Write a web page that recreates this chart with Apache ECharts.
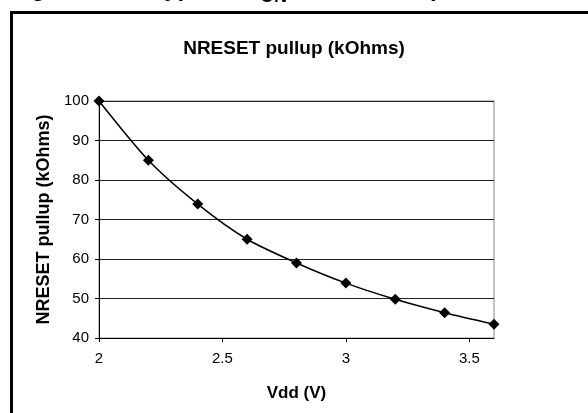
<!DOCTYPE html>
<html>
<head>
<meta charset="utf-8">
<script src="https://cdn.jsdelivr.net/npm/echarts@6/dist/echarts.min.js"></script>
<style>
html,body{margin:0;padding:0;background:#fff;}
#chart{width:588px;height:413px;}
</style>
</head>
<body>
<div id="chart"></div>
<script>
// Data
var vdd = [2.0, 2.2, 2.4, 2.6, 2.8, 3.0, 3.2, 3.4, 3.6];
var pullup = [100, 85.0, 73.9, 65.0, 59.0, 53.9, 49.8, 46.4, 43.5];
var xTicks = [2, 2.5, 3, 3.5];
var yTicks = [40, 50, 60, 70, 80, 90, 100];
var chartTitle = 'NRESET pullup (kOhms)';
var xName = 'Vdd (V)';
var yName = 'NRESET pullup (kOhms)';
var captionMain = 'Figure 10-5. Typical R';
var captionSub = 'ON';
var captionRest = ' of NRESET pin';

var points = vdd.map(function (v, i) { return [v, pullup[i]]; });

var chart = echarts.init(document.getElementById('chart'), null, {renderer: 'canvas'});
var font = 'Arial, "Liberation Sans", sans-serif';
chart.setOption({
  animation: false,
  backgroundColor: '#fff',
  title: {
    text: chartTitle,
    left: 'center',
    top: 34,
    textStyle: {fontFamily: font, fontWeight: 'bold', fontSize: 19, color: '#000'}
  },
  graphic: [
    {type: 'rect', left: 9, top: 10, shape: {x: 0, y: 0, width: 620, height: 440},
     style: {fill: null, stroke: '#000', lineWidth: 3}, silent: true},
    {type: 'text', x: 10, y: -11, style: {text: captionMain, fontFamily: font, fontWeight: 'bold', fontSize: 24, fill: '#000', verticalAlign: 'middle'}},
    {type: 'text', x: 260, y: -3, style: {text: captionSub, fontFamily: font, fontWeight: 'bold', fontSize: 18, fill: '#000', verticalAlign: 'middle'}},
    {type: 'text', x: 290, y: -11, style: {text: captionRest, fontFamily: font, fontWeight: 'bold', fontSize: 24, fill: '#000', verticalAlign: 'middle'}}
  ],
  grid: {
    left: 99, top: 101, width: 395, height: 237,
    show: true, borderColor: '#888', borderWidth: 1, backgroundColor: '#fff'
  },
  xAxis: {
    type: 'value', min: 2, max: 3.6, interval: 0.5,
    name: xName, nameLocation: 'middle', nameGap: 47,
    nameTextStyle: {fontFamily: font, fontWeight: 'bold', fontSize: 17, color: '#000'},
    axisLine: {show: true, lineStyle: {color: '#000', width: 1}},
    axisTick: {show: true, inside: false, length: 4, lineStyle: {color: '#000'}},
    axisLabel: {
      margin: 13, fontFamily: font, fontSize: 15, color: '#000', showMaxLabel: false,
      formatter: function (v) { return xTicks.indexOf(v) >= 0 ? String(v) : ''; }
    },
    splitLine: {show: false}
  },
  yAxis: {
    type: 'value', min: 40, max: 100, interval: 10,
    name: yName, nameLocation: 'middle', nameGap: 45,
    nameTextStyle: {fontFamily: font, fontWeight: 'bold', fontSize: 18, color: '#000'},
    axisLine: {show: true, lineStyle: {color: '#000', width: 1}},
    axisTick: {show: true, inside: false, length: 4, lineStyle: {color: '#000'}},
    axisLabel: {
      margin: 10, fontFamily: font, fontSize: 15, color: '#000',
      formatter: function (v) { return yTicks.indexOf(v) >= 0 ? String(v) : ''; }
    },
    splitLine: {show: true, lineStyle: {color: '#222', width: 1}}
  },
  series: [{
    type: 'line',
    data: points,
    smooth: 0.25,
    symbol: 'diamond',
    symbolSize: 11,
    lineStyle: {color: '#000', width: 1.5},
    itemStyle: {color: '#000'},
    z: 5
  }]
});
</script>
</body>
</html>
